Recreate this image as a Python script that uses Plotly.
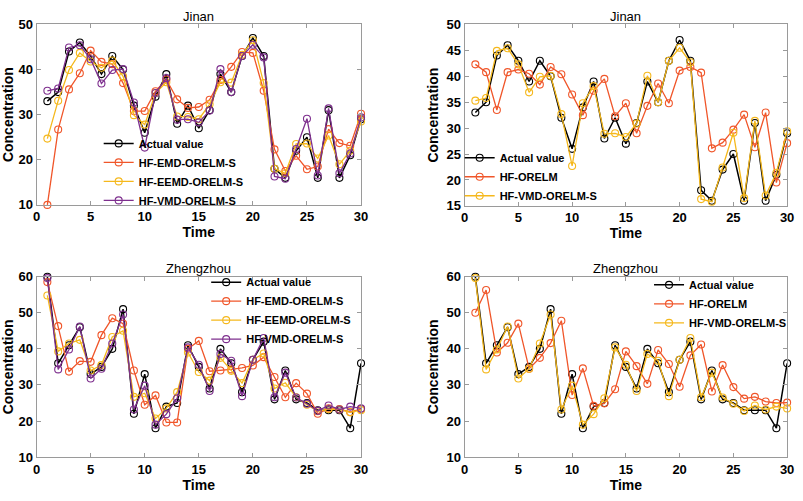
import plotly.graph_objects as go

time = list(range(1, 31))

# Jinan
jn_actual = [33, 35, 44, 46, 43, 39, 43, 40, 32, 26, 34, 39, 28, 32, 27, 31, 39, 35, 43, 47,
             43, 18, 16, 22, 25, 16, 31, 16, 21, 29]
jn_emd = [10, 26.7, 35.6, 39.2, 44.2, 41.7, 41.2, 37, 30.8, 30.8, 35.2, 37.8, 33.4, 31.5, 31.7,
          33.3, 37.7, 40.6, 43.9, 43.7, 35.3, 22.3, 17.5, 20.9, 17.9, 18.5, 26.8, 23.7, 23.1, 30.2]
jn_eemd = [24.7, 33.1, 39.9, 43.7, 41.8, 40.4, 42, 38.5, 29.9, 27.8, 34.8, 37.2, 29.6, 29.5, 29.0,
           32.3, 37.2, 37.1, 43.3, 46.5, 37, 18, 17, 23.5, 23.6, 20.3, 25.4, 19, 22, 28.5]
jn_vmd = [35.3, 35.8, 44.9, 45.4, 42.3, 36.9, 39.9, 40.1, 32.7, 22.7, 34.8, 38.1, 28.9, 29, 28.3,
          30.9, 40.1, 35, 43, 45.5, 42.7, 16.3, 15.8, 22.4, 29.1, 16.5, 31.4, 17, 21.4, 29.4]
jn_orelm = [42.3, 40.8, 33.5, 40.8, 41.3, 40.5, 38.4, 41.8, 40.4, 36.5, 32.5, 37.2, 39.5, 32.3, 34.8,
            29, 34.3, 38.6, 34.8, 41.1, 41.8, 40.7, 26.1, 27.2, 29.7, 32.6, 26.3, 33, 19.5, 27.1]

# Zhengzhou
zz_actual = [60, 36, 41, 46, 33, 35, 40, 51, 22, 33, 18, 24, 25, 41, 35, 29, 40, 36, 28, 37,
             42, 26, 34, 26, 25, 23, 23, 23, 18, 36]
zz_emd = [58.5, 46.3, 33.7, 36.6, 36.4, 43.8, 48.5, 47, 34, 24.5, 27.1, 19.6, 19.6, 40, 42.2,
          33.8, 34, 34.3, 34.7, 35.4, 37.7, 32.2, 26.6, 30.5, 27.6, 22, 23.5, 23.3, 22.5, 23.3]
zz_eemd = [54.8, 39.3, 41.5, 42.5, 34, 35.5, 43.3, 45, 26.7, 27.7, 20.7, 23.5, 28, 39, 33.6,
           31.2, 37.5, 33.9, 30.5, 37, 38.7, 29, 30.6, 26.6, 24.5, 22.7, 23.3, 23.2, 22.4, 23]
zz_vmd = [59.6, 34.3, 39.8, 46.2, 31.8, 34.5, 41.5, 49.5, 23.2, 29.8, 19, 21.9, 26.3, 40.4, 35.6,
          28.3, 38.6, 36.7, 26.9, 37, 43, 26.6, 33.4, 26.5, 24.8, 22.8, 24.3, 23.2, 24, 23.5]
zz_orelm = [50, 56.3, 39, 41.7, 47, 34.5, 37.5, 41.6, 47.8, 27.2, 34.6, 24.2, 24.9, 28.8, 39.3,
            35.2, 30.3, 39.7, 35.8, 29.5, 38.2, 41.2, 28.2, 35.5, 29.4, 26.2, 26.7, 25.4, 25, 25.1]

BLACK = "#000000"
RED = "#F0562A"
YEL = "#F5B81C"
PUR = "#7E2F8E"
FONT = "Arial, Liberation Sans, sans-serif"

W, H = 803, 501

def px_x(a, b):
    return [a / W, b / W]

def px_y(top, bot):
    return [1 - bot / H, 1 - top / H]

fig = go.Figure()

panels = [
    ("x", "y", "legend", [("Actual value", jn_actual, BLACK, 1.5),
                          ("HF-EMD-ORELM-S", jn_emd, RED, 1.3),
                          ("HF-EEMD-ORELM-S", jn_eemd, YEL, 1.3),
                          ("HF-VMD-ORELM-S", jn_vmd, PUR, 1.3)]),
    ("x2", "y2", "legend2", [("Actual value", jn_actual, BLACK, 1.5),
                             ("HF-ORELM", jn_orelm, RED, 1.3),
                             ("HF-VMD-ORELM-S", jn_vmd, YEL, 1.3)]),
    ("x3", "y3", "legend3", [("Actual value", zz_actual, BLACK, 1.5),
                             ("HF-EMD-ORELM-S", zz_emd, RED, 1.3),
                             ("HF-EEMD-ORELM-S", zz_eemd, YEL, 1.3),
                             ("HF-VMD-ORELM-S", zz_vmd, PUR, 1.3)]),
    ("x4", "y4", "legend4", [("Actual value", zz_actual, BLACK, 1.5),
                             ("HF-ORELM", zz_orelm, RED, 1.3),
                             ("HF-VMD-ORELM-S", zz_vmd, YEL, 1.3)]),
]

for xa, ya, lg, series in panels:
    for name, vals, col, lw in series:
        fig.add_trace(go.Scatter(
            x=time, y=vals, name=name, mode="lines+markers",
            line=dict(color=col, width=lw),
            marker=dict(symbol="circle-open", size=7, color=col, line=dict(width=1.1)),
            xaxis=xa, yaxis=ya, legend=lg, cliponaxis=False,
        ))

axis_common = dict(
    showline=True, linecolor="#9a9a9a", linewidth=1, mirror="ticks",
    ticks="inside", ticklen=4, tickcolor="#9a9a9a", tickwidth=1,
    showgrid=False, zeroline=False,
    tickfont=dict(family=FONT, size=13, color="black", weight="bold"),
)

def xaxis(dom, anchor):
    return dict(axis_common, domain=dom, anchor=anchor, range=[0, 30], dtick=5, tick0=0,
                title=dict(text="Time", font=dict(family=FONT, size=14, color="black", weight="bold"),
                           standoff=0))

def yaxis(dom, anchor, rng, dt):
    return dict(axis_common, domain=dom, anchor=anchor, range=rng, dtick=dt, tick0=0,
                title=dict(text="Concentration", font=dict(family=FONT, size=14, color="black", weight="bold"),
                           standoff=4))

fig.update_layout(
    width=W, height=H,
    margin=dict(l=0, r=0, t=0, b=0),
    paper_bgcolor="white", plot_bgcolor="white",
    xaxis=xaxis(px_x(33, 362), "y"),
    yaxis=yaxis(px_y(18, 204), "x", [10, 50], 10),
    xaxis2=xaxis(px_x(467, 794), "y2"),
    yaxis2=yaxis(px_y(18, 205), "x2", [15, 50], 5),
    xaxis3=xaxis(px_x(33, 362), "y3"),
    yaxis3=yaxis(px_y(278, 464), "x3", [10, 60], 10),
    xaxis4=xaxis(px_x(467, 794), "y4"),
    yaxis4=yaxis(px_y(278, 464), "x4", [10, 60], 10),
    showlegend=True,
)

def legend(xpix, ycpix):
    return dict(x=xpix / W, y=1 - ycpix / H, xanchor="left", yanchor="middle",
                bgcolor="rgba(0,0,0,0)", borderwidth=0,
                font=dict(family=FONT, size=11, color="black", weight="bold"),
                itemwidth=30, tracegroupgap=0)

fig.update_layout(
    legend=legend(96, 170),
    legend2=legend(462, 175),
    legend3=legend(205, 313),
    legend4=legend(654, 306),
)

titles = [("Jinan", 197.5, 10), ("Jinan", 630.5, 10), ("Zhengzhou", 197.5, 270), ("Zhengzhou", 630.5, 270)]
for t, xp, yp in titles:
    fig.add_annotation(text=t, x=xp / W, y=1 - yp / H, xref="paper", yref="paper",
                       xanchor="center", yanchor="middle", showarrow=False,
                       font=dict(family=FONT, size=13, color="black"))

fig.write_html("out.html", config={"displayModeBar": False},
               post_script="document.body.style.margin='0px';document.body.style.overflow='hidden';")
